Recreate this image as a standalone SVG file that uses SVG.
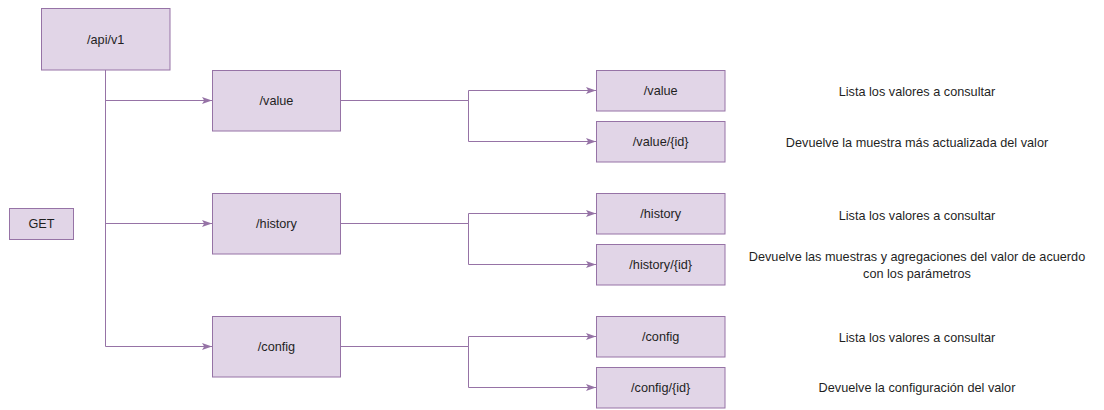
<svg xmlns="http://www.w3.org/2000/svg" width="1104" height="410" viewBox="0 0 1104 410">
  <defs>
    <style>
      .box { fill: #e1d5e7; stroke: #9673a6; stroke-width: 1; }
      .lbl { font-family: "Liberation Sans", Arial, sans-serif; font-size: 12.7px; fill: #1f1f1f; text-anchor: middle; dominant-baseline: central; }
      .edge { fill: none; stroke: #9673a6; stroke-width: 1; marker-end: url(#arrow); }
    </style>
    <marker id="arrow" viewBox="0 0 10 10" refX="10" refY="5" markerWidth="10" markerHeight="10" markerUnits="userSpaceOnUse" orient="auto">
      <path d="M0,1.5 L10,5 L0,8.5 L2.2,5 Z" fill="#9673a6"/>
    </marker>
  </defs>
  <rect width="1104" height="410" fill="#ffffff"/>

  <!-- connectors -->
  <g id="connectors">
    <path class="edge" d="M105.5 70 V100.5 H212"/>
    <path class="edge" d="M105.5 70 V223.5 H212"/>
    <path class="edge" d="M105.5 70 V346.5 H212"/>
    <path class="edge" d="M340.5 100.5 H468.5 V90.5 H596"/>
    <path class="edge" d="M340.5 100.5 H468.5 V141.5 H596"/>
    <path class="edge" d="M340.5 223.5 H468.5 V213.5 H596"/>
    <path class="edge" d="M340.5 223.5 H468.5 V264.5 H596"/>
    <path class="edge" d="M340.5 346.5 H468.5 V336.5 H596"/>
    <path class="edge" d="M340.5 346.5 H468.5 V387.5 H596"/>
  </g>

  <g id="api">
    <rect class="box" x="41.5" y="8.5" width="128.5" height="61.5"/>
    <text class="lbl" x="105.7" y="40">/api/v1</text>
  </g>
  <g id="get">
    <rect class="box" x="9.5" y="208.5" width="64" height="31"/>
    <text class="lbl" x="41.5" y="224">GET</text>
  </g>

  <g id="value">
    <rect class="box" x="212.5" y="70.5" width="128" height="60.5"/>
    <text class="lbl" x="276.5" y="101">/value</text>
  </g>
  <g id="history">
    <rect class="box" x="212.5" y="193.5" width="128" height="60.5"/>
    <text class="lbl" x="276.5" y="224">/history</text>
  </g>
  <g id="config">
    <rect class="box" x="212.5" y="316.5" width="128" height="60.5"/>
    <text class="lbl" x="276.5" y="347">/config</text>
  </g>

  <g id="value-list">
    <rect class="box" x="596.5" y="70.5" width="128.5" height="40.5"/>
    <text class="lbl" x="660.7" y="91">/value</text>
  </g>
  <g id="value-id">
    <rect class="box" x="596.5" y="121.5" width="128.5" height="40.5"/>
    <text class="lbl" x="660.7" y="142">/value/{id}</text>
  </g>
  <g id="history-list">
    <rect class="box" x="596.5" y="193.5" width="128.5" height="40.5"/>
    <text class="lbl" x="660.7" y="214">/history</text>
  </g>
  <g id="history-id">
    <rect class="box" x="596.5" y="244.5" width="128.5" height="40.5"/>
    <text class="lbl" x="660.7" y="265">/history/{id}</text>
  </g>
  <g id="config-list">
    <rect class="box" x="596.5" y="316.5" width="128.5" height="40.5"/>
    <text class="lbl" x="660.7" y="337">/config</text>
  </g>
  <g id="config-id">
    <rect class="box" x="596.5" y="367.5" width="128.5" height="40.5"/>
    <text class="lbl" x="660.7" y="388">/config/{id}</text>
  </g>

  <!-- descriptions -->
  <g id="desc-value-list"><text class="lbl" x="917" y="92">Lista los valores a consultar</text></g>
  <g id="desc-value-id"><text class="lbl" x="917" y="142.5">Devuelve la muestra más actualizada del valor</text></g>
  <g id="desc-history-list"><text class="lbl" x="917" y="215.5">Lista los valores a consultar</text></g>
  <g id="desc-history-id">
    <text class="lbl" x="917" y="257">Devuelve las muestras y agregaciones del valor de acuerdo</text>
    <text class="lbl" x="917" y="274">con los parámetros</text>
  </g>
  <g id="desc-config-list"><text class="lbl" x="917" y="337.5">Lista los valores a consultar</text></g>
  <g id="desc-config-id"><text class="lbl" x="917" y="388">Devuelve la configuración del valor</text></g>
</svg>
